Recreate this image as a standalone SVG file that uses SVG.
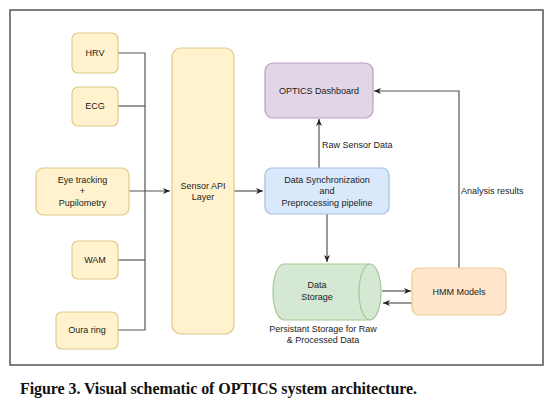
<svg xmlns="http://www.w3.org/2000/svg" width="555" height="410" viewBox="0 0 555 410">
<defs>
<style>
.t{font-family:"Liberation Sans",Arial,sans-serif;font-size:9px;fill:#222;text-anchor:middle}
.l{font-family:"Liberation Sans",Arial,sans-serif;font-size:9px;fill:#222}
.y{fill:#fff2cc;stroke:#e0c98a;stroke-width:1.2}
.c{fill:none;stroke:#555;stroke-width:1.2}
</style>
<marker id="a" markerWidth="8" markerHeight="8" refX="7" refY="4" orient="auto" markerUnits="userSpaceOnUse">
<path d="M0,1 L7,4 L0,7 L2,4 Z" fill="#222"/>
</marker>
</defs>
<rect width="555" height="410" fill="#fff"/>
<rect x="10" y="10" width="533" height="355" fill="#fff" stroke="#555" stroke-width="1.5"/>
<g id="connectors">
<path class="c" d="M118,53 H145 V330 H118"/>
<path class="c" d="M118,106 H145"/>
<path class="c" d="M118,260 H145"/>
<path class="c" d="M129,191 H170" marker-end="url(#a)"/>
<path class="c" d="M234,191 H263" marker-end="url(#a)"/>
<path class="c" d="M319,168 V119" marker-end="url(#a)"/>
<path class="c" d="M327,214 V262" marker-end="url(#a)"/>
<path class="c" d="M459,268 V91 H374" marker-end="url(#a)"/>
<path class="c" d="M382,291 H411" marker-end="url(#a)"/>
<path class="c" d="M412,303 H383" marker-end="url(#a)"/>
<text class="l" x="322" y="148">Raw Sensor Data</text>
<text class="l" x="461" y="194">Analysis results</text>
</g>
<g id="hrv"><rect class="y" x="72" y="33" width="46" height="40" rx="6"/><text class="t" x="95" y="56">HRV</text></g>
<g id="ecg"><rect class="y" x="72" y="87" width="46" height="39" rx="6"/><text class="t" x="95" y="109">ECG</text></g>
<g id="eye"><rect class="y" x="36" y="168" width="93" height="47" rx="7"/><text class="t" x="82.5" y="183">Eye tracking</text><text class="t" x="82.5" y="194">+</text><text class="t" x="82.5" y="206">Pupilometry</text></g>
<g id="wam"><rect class="y" x="72" y="241" width="46" height="38" rx="6"/><text class="t" x="95" y="263">WAM</text></g>
<g id="oura"><rect class="y" x="56" y="312" width="62" height="37" rx="6"/><text class="t" x="87" y="333">Oura ring</text></g>
<g id="sensor"><rect class="y" x="172" y="48" width="62" height="286" rx="9"/><text class="t" x="203" y="189">Sensor API</text><text class="t" x="203" y="200">Layer</text></g>
<g id="dashboard"><rect x="265" y="63" width="108" height="55" rx="8" fill="#e1d5e7" stroke="#b79fc6" stroke-width="1.2"/><text class="t" x="319" y="94">OPTICS Dashboard</text></g>
<g id="sync"><rect x="265" y="168" width="124" height="46" rx="7" fill="#dae8fc" stroke="#a3bfe3" stroke-width="1.2"/><text class="t" x="327" y="183">Data Synchronization</text><text class="t" x="327" y="194">and</text><text class="t" x="327" y="206">Preprocessing pipeline</text></g>
<g id="storage">
<path d="M284,264 H370 A11,28 0 0 1 370,320 H284 A11,28 0 0 1 284,264 Z" fill="#d5e8d4" stroke="#a3c994" stroke-width="1.2"/>
<path d="M370,264 A11,28 0 0 0 370,320" fill="none" stroke="#a3c994" stroke-width="1.2"/>
<text class="t" x="317" y="288">Data</text><text class="t" x="317" y="300">Storage</text>
<text class="t" x="323" y="332">Persistant Storage for Raw</text><text class="t" x="323" y="343">&amp; Processed Data</text>
</g>
<g id="hmm"><rect x="412" y="268" width="94" height="47" rx="7" fill="#ffe6cc" stroke="#efc88f" stroke-width="1.2"/><text class="t" x="459" y="295">HMM Models</text></g>
<text x="20" y="394" font-family="'Liberation Serif','Times New Roman',serif" font-size="16" font-weight="bold" fill="#111" textLength="397" lengthAdjust="spacing">Figure 3. Visual schematic of OPTICS system architecture.</text>
</svg>
